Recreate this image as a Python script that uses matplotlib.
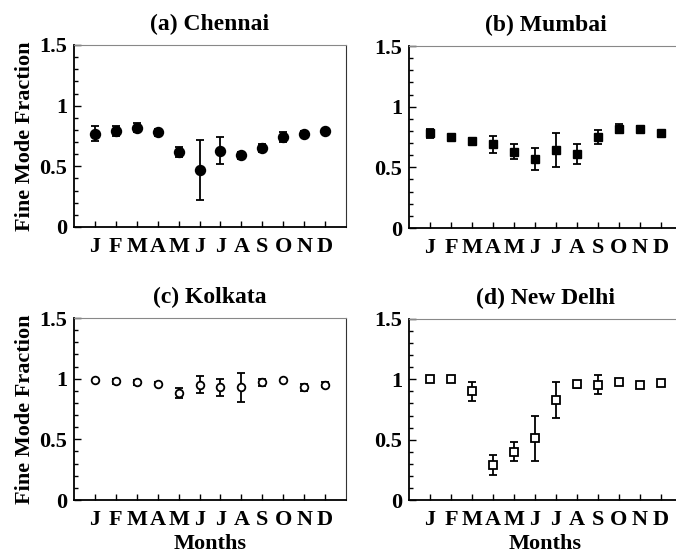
import matplotlib
matplotlib.use('Agg')
import matplotlib.pyplot as plt
from matplotlib.ticker import MultipleLocator

plt.rcParams['font.family'] = ['Liberation Serif', 'DejaVu Serif']
plt.rcParams['font.weight'] = 'bold'

months = ['J', 'F', 'M', 'A', 'M', 'J', 'J', 'A', 'S', 'O', 'N', 'D']
month_idx = list(range(1, 13))

# Fine mode fraction, monthly mean and spread
chennai = [0.77, 0.79, 0.82, 0.78, 0.62, 0.47, 0.63, 0.59, 0.65, 0.74, 0.77, 0.79]
chennai_err = [0.06, 0.04, 0.04, 0.03, 0.04, 0.25, 0.11, 0.03, 0.03, 0.04, 0.02, 0.02]

mumbai = [0.78, 0.75, 0.72, 0.69, 0.63, 0.57, 0.64, 0.61, 0.75, 0.82, 0.82, 0.78]
mumbai_err = [0.04, 0.02, 0.02, 0.07, 0.06, 0.09, 0.14, 0.08, 0.06, 0.04, 0.02, 0.02]

kolkata = [0.99, 0.98, 0.97, 0.96, 0.88, 0.95, 0.93, 0.93, 0.97, 0.99, 0.93, 0.95]
kolkata_err = [0.0, 0.02, 0.02, 0.015, 0.04, 0.07, 0.07, 0.12, 0.03, 0.0, 0.03, 0.02]

delhi = [1.0, 1.0, 0.90, 0.29, 0.40, 0.51, 0.83, 0.96, 0.955, 0.98, 0.95, 0.97]
delhi_err = [0.0, 0.0, 0.08, 0.08, 0.08, 0.19, 0.15, 0.03, 0.08, 0.015, 0.01, 0.01]

W, H = 676, 557
fig = plt.figure(figsize=(W / 100, H / 100), dpi=100)

def px_axes(x0, y0, x1, y1):
    return fig.add_axes([x0 / W, 1 - y1 / H, (x1 - x0) / W, (y1 - y0) / H])

panels = [
    (px_axes(74, 45, 346, 227), chennai, chennai_err, '(a) Chennai',
     dict(marker='o', ms=7.2, mfc='black', mec='black')),
    (px_axes(409, 46, 682, 228), mumbai, mumbai_err, '(b) Mumbai',
     dict(marker='s', ms=6.3, mfc='black', mec='black')),
    (px_axes(74, 318, 346, 500), kolkata, kolkata_err, '(c) Kolkata',
     dict(marker='o', ms=5.5, mfc='white', mec='black', mew=1.3)),
    (px_axes(409, 319, 682, 500), delhi, delhi_err, '(d) New Delhi',
     dict(marker='s', ms=5.5, mfc='white', mec='black', mew=1.3)),
]

for i, (ax, vals, errs, title, mstyle) in enumerate(panels):
    ax.errorbar(month_idx, vals, yerr=errs, fmt='none', ecolor='black',
                elinewidth=1.3, capsize=2.8, capthick=1.3, zorder=2)
    ax.plot(month_idx, vals, linestyle='none', zorder=3, **mstyle)

    ax.set_xlim(0, 13)
    ax.set_ylim(0, 1.5)
    ax.set_xticks(month_idx)
    ax.set_xticklabels(months)
    ax.set_yticks([0, 0.5, 1, 1.5])
    ax.set_yticklabels(['0', '0.5', '1', '1.5'])
    ax.yaxis.set_minor_locator(MultipleLocator(0.1))
    ax.tick_params(axis='both', which='both', direction='in', labelsize=16)
    ax.tick_params(axis='y', which='major', length=5, width=1, pad=5)
    ax.tick_params(axis='y', which='minor', length=3, width=1)
    ax.tick_params(axis='x', which='major', length=4, width=1, pad=7)
    ax.tick_params(top=False, right=False, which='both')
    for lbl in ax.get_xticklabels() + ax.get_yticklabels():
        lbl.set_fontweight('bold')

    ax.spines['left'].set_linewidth(1.3)
    ax.spines['bottom'].set_linewidth(1.3)
    ax.spines['top'].set_color('#888888')
    ax.spines['right'].set_color('#333333')

    ax.set_title(title, fontsize=17, fontweight='bold', pad=11)
    if i % 2 == 0:
        ax.set_ylabel('Fine Mode Fraction', fontsize=16, fontweight='bold', labelpad=3)
    if i >= 2:
        ax.set_xlabel('Months', fontsize=16, fontweight='bold', labelpad=3)

fig.savefig('out.png', dpi=100, facecolor='white')
